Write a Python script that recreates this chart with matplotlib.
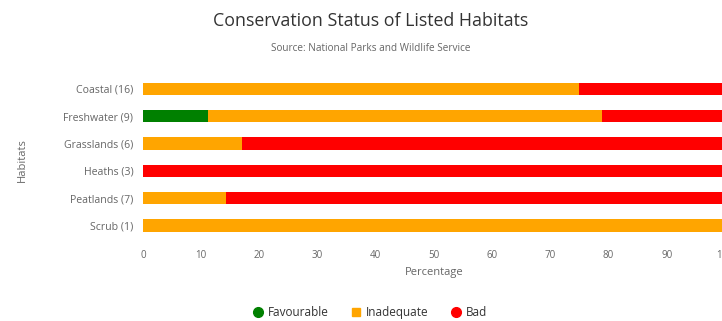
import matplotlib.pyplot as plt
from matplotlib.lines import Line2D
import numpy as np

# Données
habitats = ["Coastal (16)", "Freshwater (9)", "Grasslands (6)", "Heaths (3)", "Peatlands (7)", "Scrub (1)"]
favourable = [0, 11.1, 0, 0, 0, 0]
inadequate = [75, 67.7, 17, 0, 14.3, 100]
bad = [25, 21.2, 83, 100, 85.7, 0]

couleurs = {"Favourable": "#008000", "Inadequate": "#FFA500", "Bad": "#FF0000"}
gris = "#666666"

plt.rcParams['font.family'] = ['Open Sans', 'DejaVu Sans']

fig = plt.figure(figsize=(7.22, 3.21), dpi=100)
ax = fig.add_axes([0.198, 0.255, 0.806, 0.511])

y = np.arange(len(habitats))
gauche = np.zeros(len(habitats))
for nom, valeurs in [("Favourable", favourable), ("Inadequate", inadequate), ("Bad", bad)]:
    valeurs = np.array(valeurs)
    ax.barh(y, valeurs, left=gauche, height=0.45, color=couleurs[nom], linewidth=0)
    gauche += valeurs

ax.set_ylim(len(habitats) - 0.5, -0.5)
ax.set_xlim(0, 100)
ax.set_yticks(y)
ax.set_yticklabels(habitats, fontsize=7.6, color=gris)
ax.set_xticks(np.arange(0, 101, 10))
ax.tick_params(axis='x', labelsize=7, colors=gris, length=0, pad=8)
ax.tick_params(axis='y', length=0, pad=7)
for s in ax.spines.values():
    s.set_visible(False)

ax.set_xlabel("Percentage", fontsize=8, color=gris, labelpad=4)
fig.text(0.031, 0.5, "Habitats", rotation=90, fontsize=8, color=gris, ha='center', va='center')

fig.text(0.513, 0.935, "Conservation Status of Listed Habitats", fontsize=12.8, color="#333333", ha='center', va='center')
fig.text(0.513, 0.85, "Source: National Parks and Wildlife Service", fontsize=7.2, color=gris, ha='center', va='center')

poignees = [
    Line2D([], [], marker='o', linestyle='none', color=couleurs["Favourable"], markersize=7),
    Line2D([], [], marker='s', linestyle='none', color=couleurs["Inadequate"], markersize=6),
    Line2D([], [], marker='o', linestyle='none', color=couleurs["Bad"], markersize=7),
]
leg = fig.legend(poignees, ["Favourable", "Inadequate", "Bad"], loc='center', bbox_to_anchor=(0.511, 0.027),
                 ncol=3, frameon=False, fontsize=8.5, handletextpad=0.2, columnspacing=1.75,
                 handlelength=1.2)
for t in leg.get_texts():
    t.set_color("#333333")

fig.savefig("out.png", dpi=100)
